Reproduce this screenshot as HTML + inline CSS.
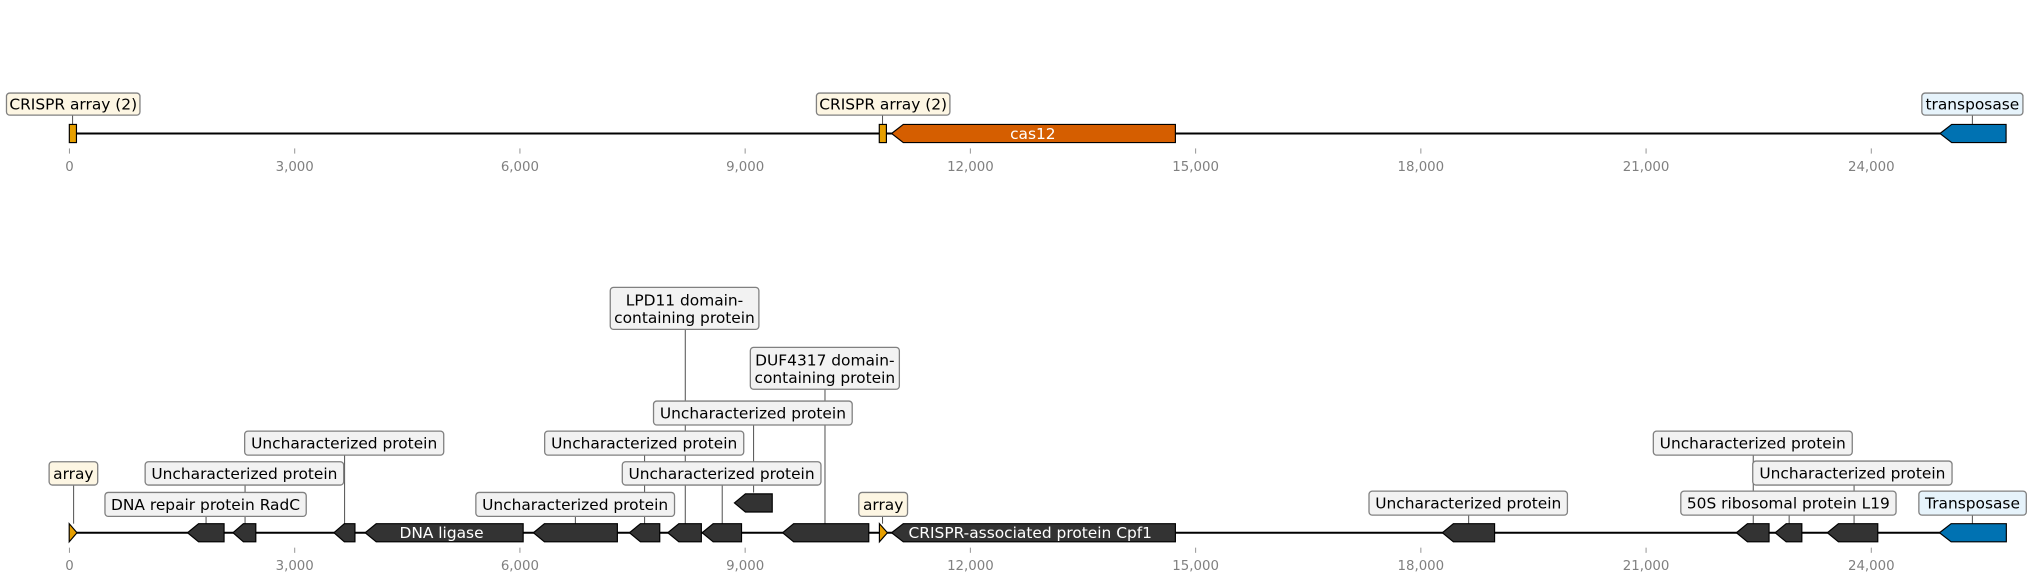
<!DOCTYPE html>
<html><head><meta charset="utf-8"><style>
html,body{margin:0;padding:0;background:#fff;}
svg{display:block;}
text{font-family:"DejaVu Sans","Liberation Sans",sans-serif;}
.lb{font-size:11.9px;fill:#000;text-anchor:middle;}
.tk{font-size:10.3px;fill:#808080;text-anchor:middle;}
.box{fill:#f2f2f2;stroke:#808080;stroke-width:1;}
.arr{fill:#fdf6e3;stroke:#808080;stroke-width:1;}
.trn{fill:#e6f3fb;stroke:#808080;stroke-width:1;}
.con{stroke:#555;stroke-width:0.8;}
.g{fill:#333333;stroke:#000;stroke-width:0.9;}
.tick{stroke:#999;stroke-width:0.8;}
</style></head><body>
<svg width="2032" height="582" viewBox="0 0 1568 449" preserveAspectRatio="none" xmlns="http://www.w3.org/2000/svg">
<line x1="55" y1="103" x2="1548" y2="103" stroke="#000" stroke-width="1.6"/>
<line class="con" x1="56" y1="88.7" x2="56" y2="96"/>
<line class="con" x1="681" y1="88.7" x2="681" y2="96"/>
<line class="con" x1="1522" y1="88.7" x2="1522" y2="96"/>
<rect class="arr" x="5" y="71.8" width="103" height="17" rx="2.5"/>
<text class="lb" x="56.5" y="84.5">CRISPR array (2)</text>
<rect class="arr" x="630" y="71.8" width="103" height="17" rx="2.5"/>
<text class="lb" x="681.5" y="84.5">CRISPR array (2)</text>
<rect class="trn" x="1483" y="71.8" width="78" height="17" rx="2.5"/>
<text class="lb" x="1522" y="84.5">transposase</text>
<rect x="53.5" y="96" width="5.5" height="14" fill="#e69f00" stroke="#000" stroke-width="0.9"/>
<rect x="678.5" y="96" width="5.5" height="14" fill="#e69f00" stroke="#000" stroke-width="0.9"/>
<polygon points="688,103 697,96 907,96 907,110 697,110" fill="#d55e00" stroke="#000" stroke-width="0.9"/>
<text class="lb" x="797" y="107.2" style="fill:#fff">cas12</text>
<polygon points="1497,103 1506,96 1548,96 1548,110 1506,110" fill="#0072b2" stroke="#000" stroke-width="0.9"/>
<g>
<line class="tick" x1="53.6" y1="114.5" x2="53.6" y2="118.5"/><text class="tk" x="53.6" y="131.8">0</text>
<line class="tick" x1="227.4" y1="114.5" x2="227.4" y2="118.5"/><text class="tk" x="227.4" y="131.8">3,000</text>
<line class="tick" x1="401.2" y1="114.5" x2="401.2" y2="118.5"/><text class="tk" x="401.2" y="131.8">6,000</text>
<line class="tick" x1="575" y1="114.5" x2="575" y2="118.5"/><text class="tk" x="575" y="131.8">9,000</text>
<line class="tick" x1="748.8" y1="114.5" x2="748.8" y2="118.5"/><text class="tk" x="748.8" y="131.8">12,000</text>
<line class="tick" x1="922.6" y1="114.5" x2="922.6" y2="118.5"/><text class="tk" x="922.6" y="131.8">15,000</text>
<line class="tick" x1="1096.4" y1="114.5" x2="1096.4" y2="118.5"/><text class="tk" x="1096.4" y="131.8">18,000</text>
<line class="tick" x1="1270.2" y1="114.5" x2="1270.2" y2="118.5"/><text class="tk" x="1270.2" y="131.8">21,000</text>
<line class="tick" x1="1444" y1="114.5" x2="1444" y2="118.5"/><text class="tk" x="1444" y="131.8">24,000</text>
</g>

<line x1="55" y1="411" x2="1548" y2="411" stroke="#000" stroke-width="1.6"/>
<line class="con" x1="56.8" y1="374" x2="56.8" y2="404"/>
<line class="con" x1="159" y1="398" x2="159" y2="404"/>
<line class="con" x1="189.1" y1="374" x2="189.1" y2="404"/>
<line class="con" x1="265.9" y1="351" x2="265.9" y2="404"/>
<line class="con" x1="444" y1="398" x2="444" y2="404"/>
<line class="con" x1="497.4" y1="351" x2="497.4" y2="404"/>
<line class="con" x1="557.3" y1="374" x2="557.3" y2="404"/>
<line class="con" x1="581.5" y1="328" x2="581.5" y2="380"/>
<line class="con" x1="528.8" y1="254" x2="528.8" y2="404"/>
<line class="con" x1="636.6" y1="300" x2="636.6" y2="404"/>
<line class="con" x1="681" y1="398" x2="681" y2="404"/>
<line class="con" x1="1133.3" y1="397" x2="1133.3" y2="404"/>
<line class="con" x1="1352.9" y1="351" x2="1352.9" y2="404"/>
<line class="con" x1="1380.6" y1="397" x2="1380.6" y2="404"/>
<line class="con" x1="1430.7" y1="374" x2="1430.7" y2="404"/>
<line class="con" x1="1522" y1="397" x2="1522" y2="404"/>
<rect class="arr" x="37.9" y="356.2" width="37.5" height="18" rx="2.5"/><text class="lb" x="56.6" y="369.4">array</text>
<rect class="box" x="81" y="379.9" width="155.3" height="18.5" rx="2.5"/><text class="lb" x="158.6" y="393.3">DNA repair protein RadC</text>
<rect class="box" x="112" y="356.2" width="153.2" height="18" rx="2.5"/><text class="lb" x="188.6" y="369.4">Uncharacterized protein</text>
<rect class="box" x="188.8" y="332.6" width="153.6" height="18.5" rx="2.5"/><text class="lb" x="265.6" y="346">Uncharacterized protein</text>
<rect class="box" x="367.2" y="379.9" width="153.3" height="18.5" rx="2.5"/><text class="lb" x="443.8" y="393.3">Uncharacterized protein</text>
<rect class="box" x="420.3" y="332.6" width="153.6" height="18.5" rx="2.5"/><text class="lb" x="497.1" y="346">Uncharacterized protein</text>
<rect class="box" x="480.2" y="356.2" width="153.3" height="18" rx="2.5"/><text class="lb" x="556.8" y="369.4">Uncharacterized protein</text>
<rect class="box" x="504.3" y="309.4" width="153.3" height="18.5" rx="2.5"/><text class="lb" x="581" y="322.8">Uncharacterized protein</text>
<rect class="box" x="470.9" y="221.7" width="114.7" height="32.4" rx="2.5"/><text class="lb" x="528.2" y="235.5">LPD11 domain-</text><text class="lb" x="528.2" y="249">containing protein</text>
<rect class="box" x="579" y="268" width="115" height="32.3" rx="2.5"/><text class="lb" x="636.5" y="281.8">DUF4317 domain-</text><text class="lb" x="636.5" y="295.3">containing protein</text>
<rect class="arr" x="662.7" y="379.9" width="37.6" height="18.5" rx="2.5"/><text class="lb" x="681.5" y="393.3">array</text>
<rect class="box" x="1056.4" y="378.9" width="153.1" height="18.5" rx="2.5"/><text class="lb" x="1133" y="392.3">Uncharacterized protein</text>
<rect class="box" x="1275.8" y="332.6" width="153.5" height="18.5" rx="2.5"/><text class="lb" x="1352.5" y="346">Uncharacterized protein</text>
<rect class="box" x="1352.5" y="355.7" width="153.8" height="18.5" rx="2.5"/><text class="lb" x="1429.4" y="369.1">Uncharacterized protein</text>
<rect class="box" x="1297" y="378.9" width="166.1" height="18.5" rx="2.5"/><text class="lb" x="1380" y="392.3">50S ribosomal protein L19</text>
<rect class="trn" x="1480.7" y="378.9" width="82.9" height="18.5" rx="2.5"/><text class="lb" x="1522.1" y="392.3">Transposase</text>
<polygon points="53.4,404 53.4,418 59.4,411" fill="#e69f00" stroke="#000" stroke-width="0.9"/>
<polygon class="g" points="144.7,411 153.2,404 172.9,404 172.9,418 153.2,418"/>
<polygon class="g" points="179.8,411 187.8,404 197.4,404 197.4,418 187.8,418"/>
<polygon class="g" points="257.7,411 265.7,404 273.9,404 273.9,418 265.7,418"/>
<polygon class="g" points="281.8,411 290.3,404 403.7,404 403.7,418 290.3,418"/>
<text class="lb" x="340.7" y="415.2" style="fill:#fff">DNA ligase</text>
<polygon class="g" points="411.6,411 420.1,404 476.4,404 476.4,418 420.1,418"/>
<polygon class="g" points="485.7,411 494.2,404 509.1,404 509.1,418 494.2,418"/>
<polygon class="g" points="515.3,411 523.8,404 541.2,404 541.2,418 523.8,418"/>
<polygon class="g" points="541.8,411 550.3,404 572.2,404 572.2,418 550.3,418"/>
<polygon class="g" points="566.7,388 575.2,381 595.9,381 595.9,395 575.2,395"/>
<polygon class="g" points="603.9,411 612.4,404 670.4,404 670.4,418 612.4,418"/>
<polygon points="678.6,404 678.6,418 684.8,411" fill="#e69f00" stroke="#000" stroke-width="0.9"/>
<polygon class="g" points="688,411 697,404 907,404 907,418 697,418"/>
<text class="lb" x="795" y="415.2" style="fill:#fff">CRISPR-associated protein Cpf1</text>
<polygon class="g" points="1113,411 1121.5,404 1153.3,404 1153.3,418 1121.5,418"/>
<polygon class="g" points="1339.9,411 1348.4,404 1365.1,404 1365.1,418 1348.4,418"/>
<polygon class="g" points="1369.8,411 1378.3,404 1390.4,404 1390.4,418 1378.3,418"/>
<polygon class="g" points="1410.1,411 1418.6,404 1449,404 1449,418 1418.6,418"/>
<polygon points="1496.6,411 1505.6,404 1548.2,404 1548.2,418 1505.6,418" fill="#0072b2" stroke="#000" stroke-width="0.9"/>
<g>
<line class="tick" x1="53.6" y1="422.5" x2="53.6" y2="426.5"/><text class="tk" x="53.6" y="439.8">0</text>
<line class="tick" x1="227.4" y1="422.5" x2="227.4" y2="426.5"/><text class="tk" x="227.4" y="439.8">3,000</text>
<line class="tick" x1="401.2" y1="422.5" x2="401.2" y2="426.5"/><text class="tk" x="401.2" y="439.8">6,000</text>
<line class="tick" x1="575" y1="422.5" x2="575" y2="426.5"/><text class="tk" x="575" y="439.8">9,000</text>
<line class="tick" x1="748.8" y1="422.5" x2="748.8" y2="426.5"/><text class="tk" x="748.8" y="439.8">12,000</text>
<line class="tick" x1="922.6" y1="422.5" x2="922.6" y2="426.5"/><text class="tk" x="922.6" y="439.8">15,000</text>
<line class="tick" x1="1096.4" y1="422.5" x2="1096.4" y2="426.5"/><text class="tk" x="1096.4" y="439.8">18,000</text>
<line class="tick" x1="1270.2" y1="422.5" x2="1270.2" y2="426.5"/><text class="tk" x="1270.2" y="439.8">21,000</text>
<line class="tick" x1="1444" y1="422.5" x2="1444" y2="426.5"/><text class="tk" x="1444" y="439.8">24,000</text>
</g>
</svg>
</body></html>
